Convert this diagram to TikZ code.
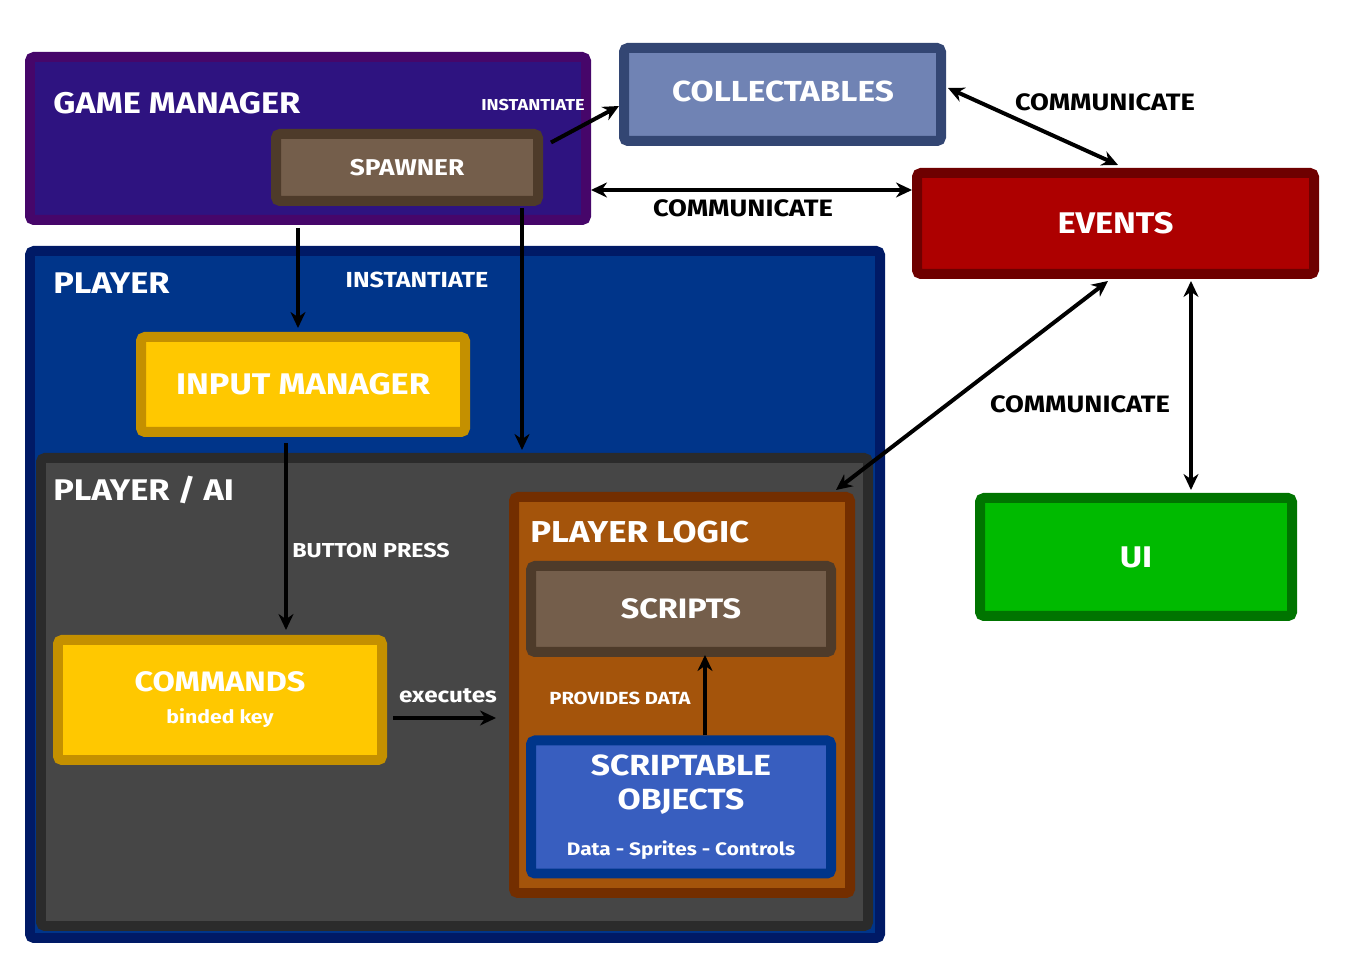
\documentclass[tikz,border=0pt]{standalone}
\usepackage{fontspec}
\setmainfont{Fira Sans}[FakeStretch=1.15]
\usetikzlibrary{arrows.meta}
\definecolor{gmline}{HTML}{46066A}\definecolor{gmfill}{HTML}{2E1380}
\definecolor{spline}{HTML}{4E3B2A}\definecolor{spfill}{HTML}{745E4B}
\definecolor{colline}{HTML}{334673}\definecolor{colfill}{HTML}{7083B4}
\definecolor{evline}{HTML}{6E0000}\definecolor{evfill}{HTML}{AD0000}
\definecolor{plline}{HTML}{001A66}\definecolor{plfill}{HTML}{00358A}
\definecolor{imline}{HTML}{C49000}\definecolor{imfill}{HTML}{FFC800}
\definecolor{ailine}{HTML}{2B2B2B}\definecolor{aifill}{HTML}{464646}
\definecolor{lgline}{HTML}{732E00}\definecolor{lgfill}{HTML}{A4540B}
\definecolor{soline}{HTML}{00358A}\definecolor{sofill}{HTML}{385EBF}
\definecolor{uiline}{HTML}{007400}\definecolor{uifill}{HTML}{00BA00}
\newcommand{\fsz}[1]{\fontsize{#1}{#1}\selectfont}
\begin{document}
\begin{tikzpicture}
  [x=0.02cm,y=-0.02cm,font=\bfseries,
   box/.style n args={4}{rectangle,rounded corners=0.08cm,line width=0.2cm,draw=#1,fill=#2,
     minimum width=#3*0.02cm,minimum height=#4*0.02cm,text=white,align=center,inner sep=0pt},
   title/.style={anchor=west,inner sep=0pt,text=white,font=\bfseries\fsz{17}},
   tag/.style={inner sep=0pt,text=white,font=\bfseries\fsz{11.5}},
   talk/.style={inner sep=0pt,text=black,font=\bfseries\fsz{13.5}},
   link/.style={line width=0.08cm,-{Stealth[length=0.32cm,width=0.3cm]}},
   both/.style={line width=0.08cm,{Stealth[length=0.32cm,width=0.3cm]}-{Stealth[length=0.32cm,width=0.3cm]}}]
  \useasboundingbox (0,0) rectangle (1350,962);
  \node[box={gmline}{gmfill}{556}{163}] (gm) at (308,138.5) {};
  \node[title] (gmt) at (53,103) {GAME MANAGER};
  \node[box={spline}{spfill}{262}{67},font=\bfseries\fsz{13}] (sp) at (407,167.5) {SPAWNER};
  \node[box={colline}{colfill}{317}{93}] (col) at (782.5,94.5) {};
  \node[text=white,inner sep=0pt,font=\bfseries\fsz{16.5}] (colt) at (783,91) {COLLECTABLES};
  \node[box={evline}{evfill}{397}{101},font=\bfseries\fsz{17}] (ev) at (1115.5,223.5) {EVENTS};
  \node[box={plline}{plfill}{850}{687}] (pl) at (455,594.5) {};
  \node[title] (plt) at (53,283) {PLAYER};
  \node[box={imline}{imfill}{324}{95},font=\bfseries\fsz{17}] (im) at (303,384.5) {INPUT MANAGER};
  \node[box={ailine}{aifill}{827}{468}] (ai) at (454.5,692) {};
  \node[title] (ait) at (53,490) {PLAYER / AI};
  \node[box={imline}{imfill}{324}{120},font=\bfseries\fsz{16}] (cmd) at (220,700)
    {COMMANDS\\[0.08cm]{\fsz{10.5}binded key}};
  \node[box={lgline}{lgfill}{336}{396}] (lg) at (682,695) {};
  \node[title,font=\bfseries\fsz{17.2}] (lgt) at (530,532) {PLAYER LOGIC};
  \node[box={spline}{spfill}{300}{86},font=\bfseries\fsz{16}] (scr) at (681,609) {SCRIPTS};
  \node[box={soline}{sofill}{300}{133},font=\bfseries\fsz{16.6}] (so) at (681,807)
    {SCRIPTABLE\\[0.1cm]OBJECTS\\[0.34cm]{\fsz{10.3}Data - Sprites - Controls}};
  \node[box={uiline}{uifill}{312}{118},font=\bfseries\fsz{17}] (ui) at (1136,557) {UI};

  \node[tag,font=\bfseries\fsz{9}] (l1) at (533,105) {INSTANTIATE};
  \node[talk] (l2) at (1105,102) {COMMUNICATE};
  \node[talk] (l3) at (743,208) {COMMUNICATE};
  \node[tag,font=\bfseries\fsz{12.4}] (l4) at (417,280) {INSTANTIATE};
  \node[talk] (l5) at (1080,404) {COMMUNICATE};
  \node[tag] (l6) at (371,551) {BUTTON PRESS};
  \node[tag,font=\bfseries\fsz{12}] (l7) at (448,696) {executes};
  \node[tag,font=\bfseries\fsz{10}] (l8) at (620,698) {PROVIDES DATA};

  \coordinate (gmr) at ([yshift=-1.03cm]gm.east);
  \coordinate (imin) at ([xshift=-0.1cm,yshift=0.08cm]im.north);
  \coordinate (spdown) at ([xshift=-0.42cm,yshift=-0.04cm]sp.south east);
  \coordinate (uiin) at ([xshift=1.1cm,yshift=0.06cm]ui.north);
  \coordinate (cmdin) at ([xshift=1.32cm,yshift=0.1cm]cmd.north);
  \coordinate (cmdout) at ([xshift=0.12cm,yshift=-0.36cm]cmd.east);

  \draw[link] ([xshift=0.16cm,yshift=0.5cm]sp.east) -- ([yshift=-0.23cm]col.west);
  \draw[both] ([xshift=0.04cm,yshift=0.13cm]col.east) -- ([xshift=0.05cm,yshift=0.06cm]ev.north);
  \draw[both] (gmr) -- (gmr -| ev.west);
  \draw[link] ([yshift=-0.06cm]gm.south -| imin) -- (imin);
  \draw[link] (spdown) -- ([yshift=0.06cm]spdown |- ai.north);
  \draw[both] ([xshift=-0.15cm,yshift=-0.04cm]ev.south) -- ([xshift=-0.38cm,yshift=0.04cm]lg.north east);
  \draw[both] ([yshift=-0.04cm]ev.south -| uiin) -- (uiin);
  \draw[link] ([yshift=-0.12cm]im.south -| cmdin) -- (cmdin);
  \draw[link] (cmdout) -- ([xshift=-0.26cm]cmdout -| lg.west);
  \draw[link] ([xshift=0.48cm]so.north) -- ([xshift=0.48cm,yshift=0.04cm]scr.south);
\end{tikzpicture}
\end{document}
